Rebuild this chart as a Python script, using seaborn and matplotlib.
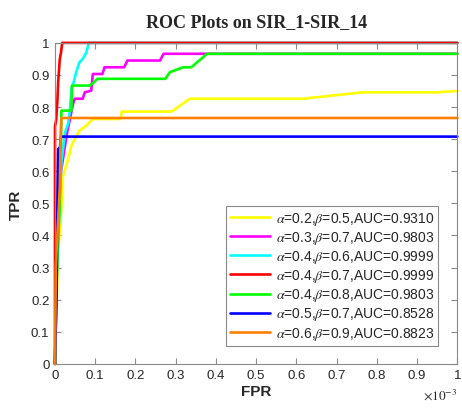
# ROC curves for several (alpha, beta) settings, MATLAB-like look
import numpy as np
import pandas as pd
import seaborn as sns
import matplotlib
matplotlib.use("Agg")
import matplotlib.pyplot as plt


# Curve data (FPR given in units of 1e-3)
labels = [
    r"$\alpha$=0.2,$\beta$=0.5,AUC=0.9310",
    r"$\alpha$=0.3,$\beta$=0.7,AUC=0.9803",
    r"$\alpha$=0.4,$\beta$=0.6,AUC=0.9999",
    r"$\alpha$=0.4,$\beta$=0.7,AUC=0.9999",
    r"$\alpha$=0.4,$\beta$=0.8,AUC=0.9803",
    r"$\alpha$=0.5,$\beta$=0.7,AUC=0.8528",
    r"$\alpha$=0.6,$\beta$=0.9,AUC=0.8823",
]
colors = ["#ffff00", "#ff00ff", "#00ffff", "#ff0000", "#00ff00",
          "#0000ff", "#ff8000"]

fpr_yellow = [0, 0.004, 0.008, 0.014, 0.016, 0.019, 0.025, 0.033, 0.041,
              0.049, 0.061, 0.078, 0.094, 0.163, 0.166, 0.29, 0.335, 0.617,
              0.764, 0.95, 1.0]
tpr_yellow = [0, 0.2, 0.35, 0.45, 0.49, 0.58, 0.607, 0.64, 0.68, 0.70,
              0.727, 0.742, 0.763, 0.763, 0.786, 0.786, 0.826, 0.826,
              0.846, 0.846, 0.85]

fpr_magenta = [0, 0.005, 0.015, 0.03, 0.04, 0.045, 0.049, 0.069, 0.074,
               0.09, 0.094, 0.118, 0.123, 0.172, 0.18, 0.261, 0.27, 1.0]
tpr_magenta = [0, 0.4, 0.6, 0.72, 0.78, 0.81, 0.826, 0.826, 0.846, 0.851,
               0.903, 0.903, 0.924, 0.924, 0.945, 0.945, 0.966, 0.966]

fpr_cyan = [0, 0.005, 0.01, 0.012, 0.016, 0.025, 0.033, 0.037, 0.041,
            0.047, 0.053, 0.061, 0.069, 0.078, 0.084, 1.0]
tpr_cyan = [0, 0.3, 0.45, 0.5, 0.63, 0.72, 0.75, 0.79, 0.857, 0.88, 0.91,
            0.94, 0.95, 0.97, 1.0, 1.0]

fpr_red = [0, 0, 0.003, 0.006, 0.008, 0.012, 0.015, 0.018, 1.0]
tpr_red = [0, 0.74, 0.76, 0.82, 0.88, 0.95, 0.97, 1.0, 1.0]

fpr_green = [0, 0.005, 0.012, 0.015, 0.016, 0.041, 0.042, 0.086, 0.095,
             0.105, 0.274, 0.286, 0.319, 0.339, 0.378, 1.0]
tpr_green = [0, 0.3, 0.5, 0.7, 0.789, 0.789, 0.867, 0.867, 0.875, 0.888,
             0.888, 0.909, 0.924, 0.924, 0.966, 0.966]

fpr_blue = [0, 0.004, 0.006, 0.008, 0.012, 0.015, 1.0]
tpr_blue = [0, 0.22, 0.5, 0.67, 0.67, 0.708, 0.708]

fpr_orange = [0, 0.002, 0.008, 0.012, 0.014, 0.016, 1.0]
tpr_orange = [0, 0.3, 0.45, 0.55, 0.7, 0.766, 0.766]

xticks = [0, 0.1, 0.2, 0.3, 0.4, 0.5, 0.6, 0.7, 0.8, 0.9, 1]
xticklabels = ["0", "0.1", "0.2", "0.3", "0.4", "0.5", "0.6", "0.7", "0.8",
               "0.9", "1"]
yticks = [0, 0.1, 0.2, 0.3, 0.4, 0.5, 0.6, 0.7, 0.8, 0.9, 1]
yticklabels = ["0", "0.1", "0.2", "0.3", "0.4", "0.5", "0.6", "0.7", "0.8",
               "0.9", "1"]


# Long table for seaborn
curves = [(fpr_yellow, tpr_yellow), (fpr_magenta, tpr_magenta),
          (fpr_cyan, tpr_cyan), (fpr_red, tpr_red),
          (fpr_green, tpr_green), (fpr_blue, tpr_blue),
          (fpr_orange, tpr_orange)]
rows = []
for label, (fpr, tpr) in zip(labels, curves):
    for f, t in zip(fpr, tpr):
        rows.append({"fpr": f, "tpr": t, "setting": label})
df = pd.DataFrame(rows)


# Plot
sns.set_style("ticks")
plt.rcParams["font.family"] = ["Liberation Sans", "DejaVu Sans"]
plt.rcParams["mathtext.fontset"] = "stix"
grey = "#8a8a8a"
fig = plt.figure(figsize=(4.62, 4.10), dpi=100)
ax = fig.add_axes([0.119, 0.110, 0.871, 0.783])
sns.lineplot(data=df, x="fpr", y="tpr", hue="setting", hue_order=labels,
             palette=colors, estimator=None, sort=False, linewidth=1.9,
             ax=ax)
for line in ax.lines:
    line.set_clip_on(False)
ax.set_xlim(0, 1)
ax.set_ylim(0, 1)
ax.set_xticks(xticks)
ax.set_xticklabels(xticklabels)
ax.set_yticks(yticks)
ax.set_yticklabels(yticklabels)
ax.tick_params(direction="in", length=4, width=0.8, color=grey,
               labelsize=9.5, labelcolor="#262626", top=True, right=True,
               pad=4)
for side in ("left", "bottom", "top", "right"):
    ax.spines[side].set_visible(True)
    ax.spines[side].set_color(grey)
    ax.spines[side].set_linewidth(0.8)
ax.set_xlabel("FPR", fontsize=11, fontweight="bold", color="#262626",
              labelpad=2)
ax.set_ylabel("TPR", fontsize=11, fontweight="bold", color="#262626",
              labelpad=6)
ax.set_title("ROC Plots on SIR_1-SIR_14", fontsize=13, fontweight="bold",
             family="Liberation Serif", pad=12)
ax.text(1.0, -0.095, r"$\times10^{-3}$", transform=ax.transAxes,
        ha="right", va="center", fontsize=9.5, color="#262626",
        family="Liberation Sans")
leg = ax.legend(loc="lower right", bbox_to_anchor=(0.97, 0.035),
                fontsize=10, frameon=True, fancybox=False, framealpha=1,
                edgecolor=grey, handlelength=2.9, labelspacing=0.15,
                borderpad=0.3, handletextpad=0.4)
leg.get_frame().set_linewidth(0.8)
for line in leg.get_lines():
    line.set_linewidth(1.9)
fig.savefig("out.png", dpi=100)
